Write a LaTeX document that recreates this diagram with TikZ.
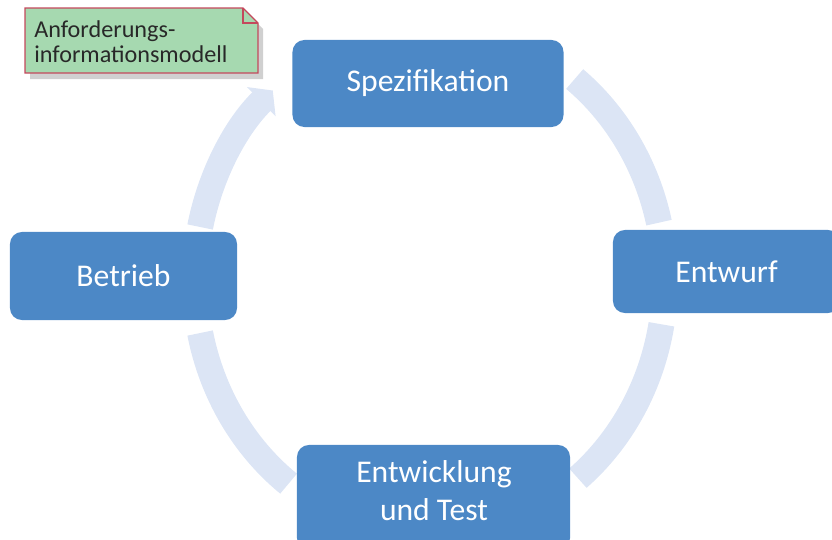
\documentclass[tikz,border=0pt]{standalone}
\usepackage{fontspec}
\setmainfont{Carlito}
\usetikzlibrary{arrows.meta}
\definecolor{boxblue}{RGB}{76,136,198}
\definecolor{ringblue}{RGB}{220,229,245}
\definecolor{notegreen}{RGB}{166,217,176}
\definecolor{notered}{RGB}{196,72,92}
\definecolor{noteshadow}{RGB}{170,170,170}
\definecolor{notetext}{RGB}{40,40,40}
\begin{document}
\begin{tikzpicture}[x=0.025cm,y=-0.025cm,
  phase/.style={draw=none,fill=boxblue,rounded corners=0.3cm,text=white,
    font=\fontsize{22.5}{27}\selectfont,align=center,inner sep=0pt},
  ringarc/.style={draw=ringblue,line width=0.65cm},
  ringhead/.style={-{Triangle[length=0.4cm,width=1.0cm]}}]
\useasboundingbox (0,0) rectangle (832,539);

% centre of the cycle
\coordinate (ctr) at (430,280);

% cycle arrows (drawn first, the phase boxes sit on top)
\draw[ringarc,ringhead] (ctr) ++(192:235 and 255)
  arc[start angle=192,end angle=228,x radius=235,y radius=255];
\draw[ringarc] (ctr) ++(308:235 and 255)
  arc[start angle=308,end angle=347,x radius=235,y radius=255];
\draw[ringarc] (ctr) ++(10:235 and 255)
  arc[start angle=10,end angle=51,x radius=235,y radius=255];
\draw[ringarc] (ctr) ++(168:235 and 255)
  arc[start angle=168,end angle=127,x radius=235,y radius=255];

% phases
\node[phase,minimum width=6.775cm,minimum height=2.175cm] (spec) at (428,83.5) {Spezifikation};
\node[phase,minimum width=5.675cm,minimum height=2.075cm] (entw) at (726.5,271.5) {Entwurf};
\node[phase,minimum width=6.825cm,minimum height=2.625cm] (dev) at (433.5,497.5) {};
\node[text=white,font=\fontsize{22.5}{27}\selectfont,align=center] (devtext) at (434,491) {Entwicklung\\und Test};
\node[phase,minimum width=5.675cm,minimum height=2.2cm] (betr) at (123.5,276) {Betrieb};

% note with folded corner
\fill[noteshadow,opacity=0.55] (30,14) -- (248,14) -- (263,29) -- (263,79) -- (30,79) -- cycle;
\draw[notered,line width=0.9pt,fill=notegreen]
  (25,8) -- (243,8) -- (258,23) -- (258,73) -- (25,73) -- cycle;
\draw[notered,line width=0.9pt] (243,8) -- (243,23) -- (258,23);
\node[anchor=north west,inner sep=0pt,align=left,text=notetext,
  font=\fontsize{17.2}{18}\selectfont] (note) at (34,20)
  {Anforderungs-\\informationsmodell};
\end{tikzpicture}
\end{document}
